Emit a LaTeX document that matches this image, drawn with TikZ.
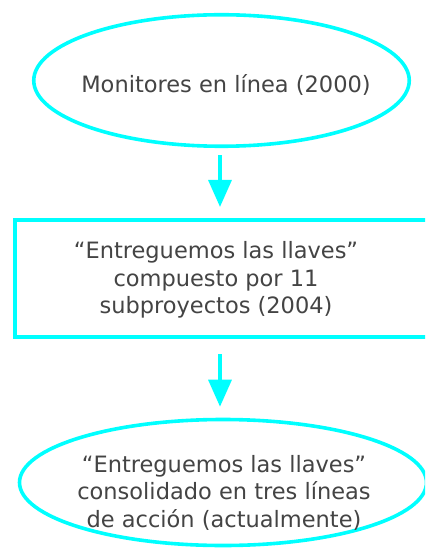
\documentclass[tikz,border=0pt]{standalone}
\usepackage{fontspec}
\setmainfont{DejaVu Sans}
\usetikzlibrary{shapes.geometric,arrows.meta}
\definecolor{cyanline}{HTML}{00FFFF}
\definecolor{txtgray}{HTML}{444444}
\begin{document}
\begin{tikzpicture}[x=1bp,y=-1bp,
  shapeline/.style={draw=cyanline, line width=3.6bp},
  oval/.style={shapeline, ellipse, inner sep=0pt},
  boxshape/.style={shapeline, rectangle, inner sep=0pt},
  lbl/.style={text=txtgray, align=center, inner sep=0pt,
    font=\fontsize{22.5bp}{27.5bp}\selectfont},
  arr/.style={draw=cyanline, line width=3.4bp,
    -{Triangle[length=27bp,width=23bp]}}]
\path[use as bounding box, clip] (0,0) rectangle (425,550);
\fill[white] (0,0) rectangle (425,550);
% nodes
\node[oval, minimum width=375.5bp, minimum height=131.5bp] (e1) at (221.5,80.5) {};
\node[lbl] (t1) at (226,84.5) {Monitores en línea (2000)};
\node[boxshape, minimum width=430bp, minimum height=117.5bp] (box) at (229.75,278.5) {};
\node[lbl] (t2) at (216,280) {“Entreguemos las llaves”\\compuesto por 11\\subproyectos (2004)};
\node[oval, minimum width=407bp, minimum height=126bp] (e3) at (223,482.5) {};
\node[lbl] (t3) at (224,492.5) {“Entreguemos las llaves”\\consolidado en tres líneas\\de acción (actualmente)};
% connectors
\draw[arr, shorten <=7bp, shorten >=11bp] ([xshift=-1.5bp]e1.south) -- ([xshift=-1.5bp]e1.south |- box.north);
\draw[arr, shorten <=15bp, shorten >=11bp] ([xshift=-1.5bp]e1.south |- box.south) -- ([xshift=-1.5bp]e1.south |- e3.north);
\end{tikzpicture}
\end{document}
